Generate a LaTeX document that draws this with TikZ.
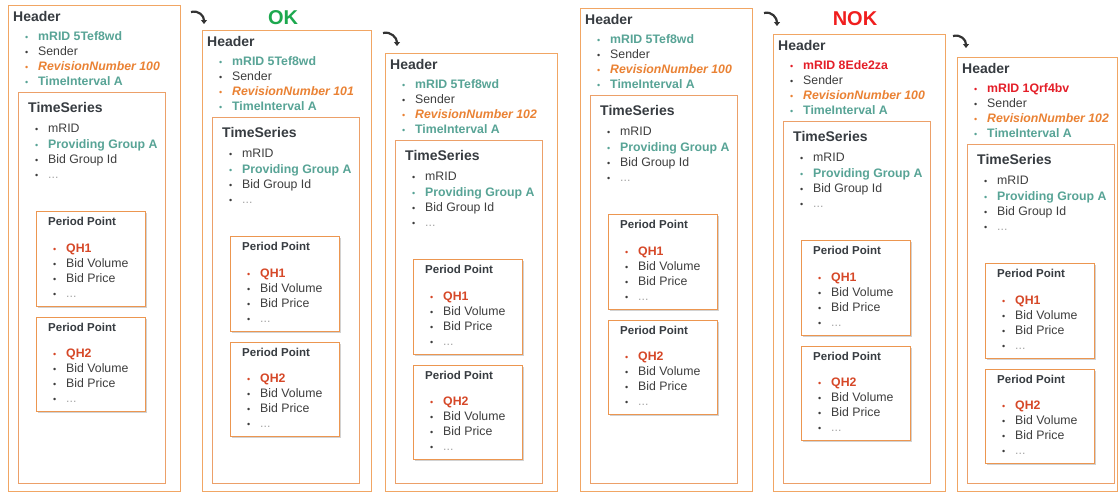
\documentclass[tikz,border=0pt]{standalone}
\usepackage{fontspec}
\setmainfont{Liberation Sans}
\usetikzlibrary{shadows,arrows.meta}
\definecolor{boxor}{RGB}{241,166,100}
\definecolor{tsor}{RGB}{236,160,105}
\definecolor{ppor}{RGB}{236,150,80}
\definecolor{teal}{RGB}{88,164,150}
\definecolor{revor}{RGB}{234,130,52}
\definecolor{qhred}{RGB}{214,72,40}
\definecolor{idred}{RGB}{228,30,40}
\definecolor{okgreen}{RGB}{28,168,78}
\definecolor{nokred}{RGB}{240,30,30}
\definecolor{txt}{RGB}{62,62,62}
\definecolor{hdr}{RGB}{55,60,65}
\definecolor{dots}{RGB}{165,165,165}
\newcommand\bul[1]{\makebox[13pt][l]{\textcolor{#1}{\small\textbullet}}}
\tikzset{
  outerbox/.style={draw=boxor, line width=0.9pt, fill=white, inner sep=0, anchor=north west},
  tsbox/.style={draw=tsor, line width=0.9pt, fill=white, inner sep=0, anchor=north west},
  ppbox/.style={draw=ppor, line width=1pt, fill=white, inner sep=0, anchor=north west,
    drop shadow={shadow xshift=1pt, shadow yshift=-1.5pt, opacity=0.35}},
  title/.style={anchor=base west, inner sep=0, font=\bfseries\fontsize{14}{16}\selectfont, text=hdr},
  ptitle/.style={anchor=base west, inner sep=0, font=\bfseries\fontsize{11.5}{13}\selectfont, text=hdr},
  item/.style={anchor=base west, inner sep=0, font=\fontsize{12.3}{14}\selectfont, text=txt},
  verdict/.style={font=\bfseries\fontsize{20}{22}\selectfont, inner sep=0},
  turn/.style={draw=black!80, line width=2.2pt, -{Triangle[length=4pt,width=6pt]}}
}
% #1 name, #2 L, #3 T, #4 W, #5 mRID text, #6 mRID colour, #7 revision
\newcommand\drawpanel[7]{%
\begin{scope}[shift={(#2,#3)}]
  \node[outerbox, minimum width=#4, minimum height={491-#3}] (#1out) at (0,0) {};
  \node[title] (#1hdr) at (5,16) {Header};
  \node[item] (#1h1) at (17,35) {\bul{#6}\textcolor{#6}{\bfseries #5}};
  \node[item] (#1h2) at (17,50) {\bul{txt}Sender};
  \node[item] (#1h3) at (17,65) {\bul{revor}\textcolor{revor}{\bfseries\itshape RevisionNumber #7}};
  \node[item] (#1h4) at (17,80) {\bul{teal}\textcolor{teal}{\bfseries TimeInterval A}};
  \node[tsbox, minimum width=147, minimum height={483-87-#3}] (#1ts) at (10,87) {};
  \node[title] (#1tst) at (20,107) {TimeSeries};
  \node[item] (#1t1) at (27,127) {\bul{txt}mRID};
  \node[item] (#1t2) at (27,143) {\bul{teal}\textcolor{teal}{\bfseries Providing Group A}};
  \node[item] (#1t3) at (27,158) {\bul{txt}Bid Group Id};
  \node[item] (#1t4) at (27,173) {\bul{txt}\textcolor{dots}{...}};
  \node[ppbox, minimum width=109, minimum height=95] (#1pa) at (28,206) {};
  \node[ptitle] (#1pat) at (40,220) {Period Point};
  \node[item] (#1a1) at (45,247) {\bul{qhred}\textcolor{qhred}{\bfseries QH1}};
  \node[item] (#1a2) at (45,262) {\bul{txt}Bid Volume};
  \node[item] (#1a3) at (45,277) {\bul{txt}Bid Price};
  \node[item] (#1a4) at (45,292) {\bul{txt}\textcolor{dots}{...}};
  \node[ppbox, minimum width=109, minimum height=94] (#1pb) at (28,312) {};
  \node[ptitle] (#1pbt) at (40,326) {Period Point};
  \node[item] (#1b1) at (45,352) {\bul{qhred}\textcolor{qhred}{\bfseries QH2}};
  \node[item] (#1b2) at (45,367) {\bul{txt}Bid Volume};
  \node[item] (#1b3) at (45,382) {\bul{txt}Bid Price};
  \node[item] (#1b4) at (45,397) {\bul{txt}\textcolor{dots}{...}};
\end{scope}}
\begin{document}
\begin{tikzpicture}[x=1pt,y=-1pt]
\useasboundingbox (0,0) rectangle (1119,493);
\fill[white] (0,0) rectangle (1119,493);
\drawpanel{pA}{8}{5}{172}{mRID 5Tef8wd}{teal}{100}
\drawpanel{pB}{202}{30}{169}{mRID 5Tef8wd}{teal}{101}
\drawpanel{pC}{385}{53}{172}{mRID 5Tef8wd}{teal}{102}
\drawpanel{pD}{580}{8}{172}{mRID 5Tef8wd}{teal}{100}
\drawpanel{pE}{773}{34}{172}{mRID 8Ede2za}{idred}{100}
\drawpanel{pF}{957}{57}{160}{mRID 1Qrf4bv}{idred}{102}
\node[verdict, text=okgreen] (ok) at (283,18) {OK};
\node[verdict, text=nokred] (nok) at (855,19) {NOK};
\coordinate (a1s) at (191,12); \coordinate (a1e) at (204,24);
\coordinate (a2s) at (383,33); \coordinate (a2e) at (397,46);
\coordinate (a3s) at (764,13); \coordinate (a3e) at (777,26);
\coordinate (a4s) at (953,36); \coordinate (a4e) at (966,48);
\foreach \a in {1,2,3,4}{
  \draw[turn] (a\a s) .. controls +(8,-2) and +(0,-8) .. (a\a e);
}
\end{tikzpicture}
\end{document}
